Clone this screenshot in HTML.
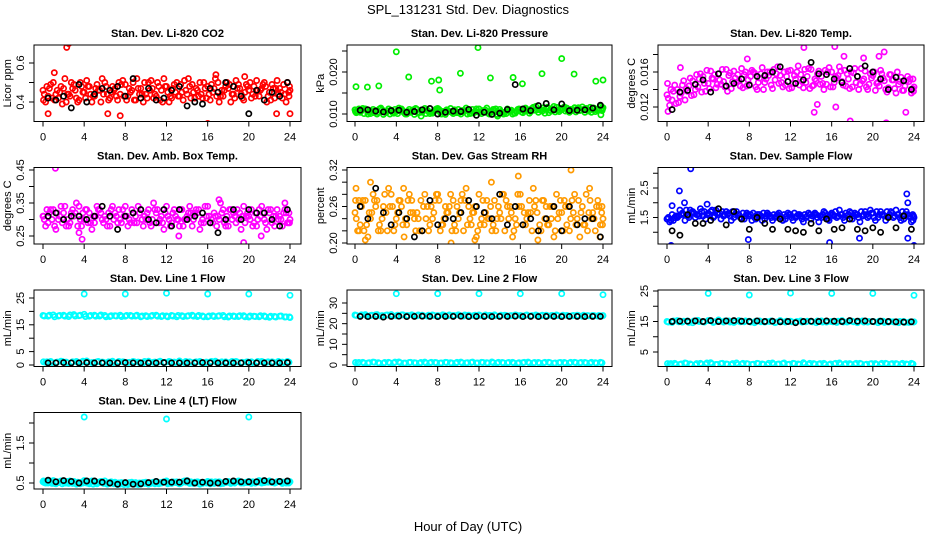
<!DOCTYPE html>
<html><head><meta charset="utf-8"><style>
html,body{margin:0;padding:0;background:#fff;}
svg{display:block;font-family:"Liberation Sans",sans-serif;}
</style></head><body>
<svg id="chart" width="936" height="540" viewBox="0 0 936 540" xmlns="http://www.w3.org/2000/svg">
<rect x="0" y="0" width="936" height="540" fill="#fff"/>
<text x="468" y="14" font-size="13" text-anchor="middle">SPL_131231  Std. Dev. Diagnostics</text>
<text x="468" y="531" font-size="13" text-anchor="middle">Hour of Day (UTC)</text>
</svg>
<script>
// shared hours
const hoursA = [0,0.5,1,1.5,2,2.5,3,3.5,4,4.5,5,5.5,6,6.5,7,7.5,8,8.5,9,9.5,10,10.5,11,11.5,12,12.5,13,13.5,14,14.5,15,15.5,16,16.5,17,17.5,18,18.5,19,19.5,20,20.5,21,21.5,22,22.5,23,23.5,24];
const hoursB = [0.25,0.75,1.25,1.75,2.25,2.75,3.25,3.75,4.25,4.75,5.25,5.75,6.25,6.75,7.25,7.75,8.25,8.75,9.25,9.75,10.25,10.75,11.25,11.75,12.25,12.75,13.25,13.75,14.25,14.75,15.25,15.75,16.25,16.75,17.25,17.75,18.25,18.75,19.25,19.75,20.25,20.75,21.25,21.75,22.25,22.75,23.25,23.75,23.9];
const hoursC = [0.125,0.625,1.125,1.625,2.125,2.625,3.125,3.625,4.125,4.625,5.125,5.625,6.125,6.625,7.125,7.625,8.125,8.625,9.125,9.625,10.125,10.625,11.125,11.625,12.125,12.625,13.125,13.625,14.125,14.625,15.125,15.625,16.125,16.625,17.125,17.625,18.125,18.625,19.125,19.625,20.125,20.625,21.125,21.625,22.125,22.625,23.125,23.625,23.95];
const hoursD = [0.375,0.875,1.375,1.875,2.375,2.875,3.375,3.875,4.375,4.875,5.375,5.875,6.375,6.875,7.375,7.875,8.375,8.875,9.375,9.875,10.375,10.875,11.375,11.875,12.375,12.875,13.375,13.875,14.375,14.875,15.375,15.875,16.375,16.875,17.375,17.875,18.375,18.875,19.375,19.875,20.375,20.875,21.375,21.875,22.375,22.875,23.375,23.875,0.05];
const blkHours = [0.5,1.25,2,2.75,3.5,4.25,5,5.75,6.5,7.25,8,8.75,9.5,10.25,11,11.75,12.5,13.25,14,14.75,15.5,16.25,17,17.75,18.5,19.25,20,20.75,21.5,22.25,23,23.75];
const xTicks = [0,4,8,12,16,20,24];

// CO2
const co2A = [0.46,0.43,0.50,0.42,0.47,0.44,0.49,0.41,0.45,0.48,0.43,0.46,0.50,0.42,0.47,0.44,0.49,0.45,0.41,0.47,0.44,0.51,0.43,0.46,0.48,0.42,0.50,0.45,0.44,0.49,0.46,0.42,0.48,0.45,0.50,0.43,0.47,0.44,0.49,0.41,0.46,0.48,0.43,0.50,0.45,0.42,0.47,0.44,0.46];
const co2B = [0.40,0.49,0.44,0.48,0.40,0.50,0.42,0.48,0.51,0.40,0.49,0.52,0.44,0.48,0.41,0.51,0.43,0.50,0.47,0.40,0.50,0.42,0.48,0.52,0.40,0.49,0.43,0.51,0.48,0.42,0.50,0.47,0.41,0.52,0.43,0.48,0.40,0.51,0.44,0.49,0.42,0.51,0.47,0.40,0.49,0.51,0.42,0.50,0.43];
const co2C = [0.44,0.47,0.41,0.45,0.52,0.43,0.46,0.50,0.42,0.44,0.47,0.40,0.48,0.45,0.43,0.49,0.41,0.46,0.52,0.44,0.42,0.47,0.50,0.40,0.45,0.47,0.43,0.41,0.52,0.45,0.43,0.50,0.44,0.47,0.40,0.46,0.49,0.42,0.47,0.45,0.50,0.43,0.46,0.48,0.41,0.47,0.45,0.40,0.48];
const co2D = [0.48,0.42,0.46,0.39,0.44,0.47,0.40,0.45,0.48,0.43,0.46,0.44,0.41,0.46,0.50,0.43,0.47,0.41,0.44,0.50,0.46,0.44,0.41,0.48,0.43,0.45,0.49,0.46,0.42,0.47,0.44,0.42,0.49,0.43,0.46,0.50,0.44,0.47,0.42,0.48,0.44,0.46,0.49,0.43,0.47,0.44,0.49,0.45,0.41];
const co2OutX = [2.3,2.5,1.1,8,16,16.8,19.6,0.5,6.3,22.7,24,7.5];
const co2OutY = [0.68,0.70,0.55,0.28,0.29,0.54,0.53,0.34,0.34,0.34,0.34,0.33];
const co2Blk = [0.42,0.41,0.43,0.37,0.49,0.40,0.44,0.47,0.46,0.48,0.43,0.52,0.42,0.47,0.41,0.42,0.46,0.48,0.38,0.40,0.39,0.47,0.45,0.50,0.48,0.43,0.34,0.46,0.41,0.45,0.43,0.50];
// Pressure
const presA = [.0110,.0104,.0112,.0101,.0108,.0114,.0103,.0109,.0106,.0112,.0100,.0107,.0111,.0104,.0109,.0102,.0113,.0106,.0108,.0101,.0111,.0105,.0109,.0103,.0112,.0106,.0100,.0108,.0111,.0104,.0107,.0102,.0110,.0114,.0106,.0118,.0109,.0113,.0107,.0116,.0110,.0114,.0108,.0112,.0117,.0109,.0113,.0111,.0115];
const presB = [.0106,.0113,.0100,.0111,.0104,.0099,.0112,.0102,.0114,.0103,.0111,.0099,.0104,.0113,.0101,.0110,.0104,.0099,.0113,.0106,.0100,.0114,.0102,.0112,.0101,.0114,.0107,.0099,.0104,.0112,.0100,.0111,.0103,.0108,.0116,.0104,.0115,.0103,.0118,.0106,.0117,.0104,.0115,.0108,.0104,.0116,.0106,.0118,.0108];
const presC = [.0103,.0108,.0111,.0106,.0100,.0110,.0107,.0104,.0101,.0108,.0106,.0110,.0102,.0109,.0106,.0105,.0111,.0103,.0106,.0110,.0104,.0108,.0101,.0107,.0105,.0109,.0103,.0112,.0106,.0101,.0109,.0106,.0105,.0111,.0113,.0110,.0107,.0116,.0112,.0109,.0113,.0107,.0110,.0115,.0111,.0107,.0114,.0110,.0112];
const presD = [.0112,.0101,.0106,.0103,.0112,.0105,.0100,.0111,.0108,.0100,.0104,.0113,.0109,.0101,.0104,.0112,.0100,.0110,.0104,.0103,.0108,.0100,.0111,.0105,.0108,.0102,.0111,.0104,.0100,.0108,.0103,.0112,.0108,.0102,.0109,.0112,.0102,.0109,.0105,.0113,.0107,.0111,.0105,.0109,.0113,.0104,.0110,.0114,.0106];
const presOutX = [0.1,1.2,2.3,4,5.2,7.4,8.1,8.2,10.2,11.9,13.1,15.3,16.2,18.1,20,21.2,23.3,24,23.8,13.8,6.4];
const presOutY = [.0165,.0164,.0167,.0248,.0188,.0178,.0181,.0157,.0197,.0258,.0186,.0187,.0172,.0196,.0232,.0195,.0178,.0181,.0098,.0095,.0095];
const presBlk = [.0109,.0110,.0107,.0105,.0108,.0109,.0104,.0106,.0110,.0113,.0100,.0104,.0107,.0106,.0111,.0097,.0104,.0099,.0102,.0111,.0170,.0112,.0108,.0120,.0125,.0110,.0124,.0108,.0109,.0110,.0114,.0121];
// Li-820 temp
const tempA = [.0134,.0128,.0140,.0145,.0138,.0150,.0143,.0155,.0147,.0152,.0158,.0149,.0156,.0161,.0150,.0157,.0146,.0159,.0153,.0148,.0160,.0151,.0156,.0145,.0162,.0152,.0157,.0148,.0163,.0150,.0155,.0146,.0160,.0153,.0149,.0158,.0143,.0155,.0150,.0140,.0156,.0148,.0153,.0142,.0151,.0146,.0139,.0149,.0143];
const tempB = [.0122,.0145,.0132,.0128,.0153,.0140,.0158,.0138,.0161,.0142,.0146,.0163,.0141,.0148,.0164,.0144,.0162,.0140,.0165,.0160,.0141,.0166,.0143,.0161,.0147,.0167,.0142,.0164,.0145,.0161,.0140,.0165,.0148,.0166,.0162,.0141,.0164,.0146,.0161,.0158,.0139,.0162,.0140,.0157,.0136,.0154,.0150,.0136,.0152];
const tempC = [.0130,.0138,.0125,.0150,.0144,.0134,.0152,.0147,.0141,.0157,.0151,.0143,.0159,.0153,.0144,.0160,.0155,.0143,.0158,.0152,.0145,.0158,.0148,.0155,.0142,.0160,.0149,.0155,.0144,.0158,.0147,.0160,.0143,.0156,.0145,.0152,.0159,.0140,.0152,.0146,.0160,.0144,.0150,.0157,.0141,.0149,.0144,.0152,.0138];
const tempD = [.0140,.0124,.0136,.0141,.0133,.0157,.0137,.0162,.0153,.0146,.0163,.0138,.0149,.0157,.0142,.0151,.0160,.0148,.0140,.0156,.0163,.0147,.0160,.0141,.0156,.0145,.0163,.0141,.0152,.0146,.0162,.0143,.0155,.0161,.0144,.0160,.0148,.0164,.0143,.0153,.0147,.0158,.0137,.0151,.0160,.0139,.0155,.0141,.0147];
const tempOutX = [0.1,1.3,13.3,16.3,17.2,14.3,16.4,17.8,21.3,21.1,23.2,14.6,19.1,20.6,7.8];
const tempOutY = [.0115,.0165,.0188,.0189,.0178,.0114,.0120,.0104,.0102,.0183,.0114,.0123,.0176,.0178,.0175];
const tempBlk = [.0117,.0137,.0139,.0146,.0151,.0137,.0158,.0144,.0147,.0152,.0145,.0155,.0156,.0160,.0166,.0149,.0147,.0151,.0171,.0158,.0157,.0152,.0148,.0164,.0155,.0167,.0160,.0152,.0140,.0154,.0150,.0140];
// Amb box temp
const ambA = [.31,.29,.33,.30,.32,.28,.31,.34,.30,.32,.29,.33,.31,.28,.32,.30,.34,.29,.31,.33,.30,.28,.32,.31,.34,.29,.30,.33,.31,.28,.32,.30,.34,.29,.31,.33,.28,.32,.30,.34,.31,.29,.33,.30,.32,.28,.31,.33,.30];
const ambB = [.28,.33,.27,.34,.28,.32,.35,.28,.33,.27,.34,.30,.28,.34,.29,.33,.28,.32,.34,.28,.33,.35,.29,.27,.30,.33,.28,.30,.34,.32,.27,.34,.29,.31,.35,.28,.33,.29,.27,.31,.33,.28,.34,.27,.29,.33,.28,.29,.32];
const ambC = [.30,.32,.28,.31,.34,.29,.32,.30,.33,.29,.31,.32,.30,.33,.31,.29,.31,.33,.29,.30,.32,.30,.33,.29,.31,.32,.30,.28,.32,.30,.33,.29,.31,.32,.30,.29,.33,.31,.32,.29,.30,.32,.31,.29,.33,.31,.30,.32,.29];
const ambD = [.33,.30,.32,.29,.30,.33,.28,.32,.29,.31,.33,.29,.32,.30,.33,.31,.30,.29,.32,.31,.29,.33,.30,.32,.28,.31,.33,.30,.32,.33,.29,.31,.30,.28,.32,.31,.30,.33,.31,.32,.28,.30,.32,.33,.31,.30,.32,.29,.31];
const ambOutX = [1.2,3.8,3.5,19.5,21.2,13.2,17.1,23.5];
const ambOutY = [0.455,0.24,0.26,0.23,0.25,0.25,0.36,0.35];
const ambBlk = [.31,.32,.30,.31,.31,.30,.31,.34,.31,.27,.31,.32,.33,.30,.29,.33,.28,.33,.30,.31,.32,.29,.26,.30,.33,.30,.33,.32,.32,.30,.28,.33];
// Gas RH
const rhA = [.25,.23,.27,.24,.26,.22,.25,.28,.24,.26,.23,.27,.25,.22,.26,.24,.28,.23,.25,.27,.24,.22,.26,.25,.28,.23,.24,.27,.25,.22,.26,.24,.28,.23,.25,.27,.22,.26,.24,.28,.25,.23,.27,.24,.26,.22,.25,.27,.24];
const rhB = [.22,.27,.21,.28,.22,.26,.29,.22,.27,.21,.28,.24,.22,.28,.23,.27,.22,.26,.28,.22,.27,.29,.23,.21,.24,.27,.22,.24,.28,.26,.21,.28,.23,.25,.29,.22,.27,.23,.21,.25,.27,.22,.28,.21,.23,.27,.22,.23,.26];
const rhC = [.24,.26,.23,.25,.27,.24,.22,.26,.25,.23,.27,.25,.24,.26,.22,.25,.27,.24,.26,.23,.25,.27,.24,.26,.23,.25,.26,.22,.24,.27,.25,.23,.26,.24,.22,.25,.27,.23,.26,.24,.22,.26,.25,.27,.23,.25,.24,.26,.23];
const rhD = [.27,.22,.25,.27,.23,.28,.26,.23,.27,.24,.25,.22,.27,.24,.26,.28,.23,.25,.22,.26,.28,.23,.25,.22,.27,.24,.23,.26,.28,.24,.22,.26,.25,.27,.26,.23,.24,.26,.22,.27,.26,.24,.23,.25,.28,.24,.26,.25,.27];
const rhOutX = [0.1,1.0,1.5,0.4,4.7,9.3,13.2,15.8,20.9,22.7,17.7,11.6,23.7];
const rhOutY = [.29,.205,.30,.22,.29,.20,.30,.31,.32,.29,.205,.205,.21];
const rhBlk = [.26,.24,.29,.25,.23,.25,.24,.21,.22,.27,.23,.24,.24,.25,.27,.26,.25,.24,.28,.23,.26,.23,.24,.22,.24,.26,.22,.26,.23,.24,.24,.21];
// Sample flow
const sfA = [1.45,1.6,1.5,1.65,1.55,1.7,1.6,1.55,1.65,1.5,1.6,1.55,1.65,1.5,1.6,1.45,1.55,1.5,1.6,1.45,1.55,1.5,1.55,1.45,1.6,1.5,1.55,1.5,1.45,1.6,1.5,1.55,1.65,1.5,1.6,1.55,1.45,1.6,1.55,1.5,1.65,1.5,1.6,1.55,1.5,1.6,1.45,1.55,1.5];
const sfB = [1.35,1.5,1.75,1.4,1.75,1.5,1.8,1.45,1.7,1.75,1.45,1.7,1.4,1.7,1.45,1.65,1.4,1.6,1.4,1.65,1.4,1.6,1.4,1.65,1.4,1.6,1.35,1.65,1.6,1.35,1.7,1.4,1.55,1.75,1.4,1.7,1.65,1.35,1.7,1.75,1.4,1.7,1.4,1.7,1.75,1.4,1.7,1.35,1.4];
const sfC = [1.5,1.4,1.55,1.6,1.5,1.65,1.55,1.7,1.6,1.55,1.65,1.6,1.55,1.6,1.5,1.55,1.6,1.45,1.55,1.55,1.5,1.55,1.5,1.55,1.5,1.55,1.45,1.55,1.55,1.5,1.6,1.45,1.6,1.55,1.5,1.6,1.55,1.5,1.6,1.55,1.5,1.6,1.55,1.6,1.55,1.5,1.6,1.5,1.55];
const sfD = [1.4,1.55,1.6,1.75,1.65,1.6,1.7,1.6,1.75,1.65,1.7,1.6,1.7,1.6,1.65,1.6,1.65,1.6,1.65,1.6,1.6,1.65,1.6,1.6,1.65,1.6,1.6,1.6,1.65,1.55,1.65,1.6,1.7,1.6,1.65,1.65,1.6,1.7,1.6,1.65,1.7,1.6,1.7,1.65,1.6,1.7,1.6,1.6,1.45];
const sfOutX = [2.3,1.2,0.4,0.5,7.9,15.8,23.3,23.4,23.4,24,18.7,1.7,3.9];
const sfOutY = [3.15,2.4,0.55,1.9,0.75,0.65,2.3,2.0,0.8,0.55,0.8,2.0,1.95];
const sfBlk = [1.05,0.9,1.6,1.3,1.3,1.4,1.8,1.25,1.7,1.45,1.1,1.5,1.3,1.1,1.45,1.1,1.05,1.0,1.3,1.05,1.45,1.1,1.15,1.45,1.1,1.05,1.15,1.0,1.5,1.15,1.55,1.1];
// Line 1
const l1A = [18.5,18.2,18.7,18.3,18.6,18.1,18.8,18.4,18.9,18.2,18.6,18.3,18.5,18.1,18.4,18.6,18.2,18.5,18.3,18.0,18.4,18.2,18.6,18.1,18.3,18.5,18.0,18.4,18.2,18.6,18.1,18.3,18.0,18.4,18.2,18.5,17.9,18.3,18.1,18.4,17.9,18.2,18.0,18.3,17.8,18.1,18.2,17.9,17.7];
const l1B = [1.0,1.3,0.9,1.4,1.1,0.8,1.3,1.0,1.5,0.9,1.2,1.1,0.8,1.4,1.0,1.2,0.9,1.3,1.1,0.8,1.4,1.0,1.2,0.9,1.3,1.1,1.5,0.9,1.2,1.0,1.3,0.8,1.1,1.4,0.9,1.2,1.0,1.3,0.8,1.1,1.2,0.9,1.3,1.0,1.2,0.9,1.1,1.3,1.0];
const l1C = [18.3,18.6,18.0,18.5,18.2,18.7,18.3,18.6,18.1,18.5,18.2,18.7,18.0,18.4,18.3,18.1,18.5,18.2,18.6,18.3,18.1,18.5,18.2,18.4,18.0,18.3,18.5,18.1,18.4,18.2,18.5,18.0,18.3,18.1,18.4,18.0,18.3,18.1,18.4,18.0,18.3,18.1,18.4,18.0,18.2,17.9,18.3,18.0,17.9];
const l1D = [1.2,0.9,1.1,1.3,0.8,1.2,1.0,1.4,1.1,0.9,1.3,1.0,1.2,0.9,1.3,1.1,1.0,1.2,0.9,1.3,1.0,1.1,1.4,1.0,1.2,0.9,1.1,1.3,1.0,1.2,0.9,1.1,1.3,1.0,1.2,0.9,1.3,1.1,1.0,1.2,0.9,1.3,1.1,1.2,1.0,1.3,0.9,1.1,1.2];
const l1OutX = [4,8,12,16,20,24];
const l1OutY = [26.5,26.5,26.8,26.5,26.5,26.0];
const l1Blk = [0.8,0.8,0.9,0.8,0.8,0.9,0.8,0.8,0.8,0.8,0.9,0.8,0.8,0.8,0.8,0.9,0.8,0.8,0.8,0.8,0.9,0.8,0.8,0.8,0.8,0.8,0.9,0.8,0.8,0.8,0.8,0.9];
// Line 2
const l2A = [24.2,23.8,24.4,23.9,24.3,23.7,24.1,24.4,23.8,24.2,23.9,24.3,23.8,24.1,23.7,24.2,23.9,24.3,23.8,24.0,24.3,23.7,24.1,23.9,24.2,23.8,24.0,24.3,23.7,24.1,23.8,24.2,23.9,24.0,23.7,24.2,23.8,24.1,23.9,24.2,23.7,24.0,23.8,24.1,23.6,23.9,24.0,23.7,23.9];
const l2B = [1.0,1.3,0.9,1.4,1.1,0.8,1.3,1.0,1.5,0.9,1.2,1.1,0.8,1.4,1.0,1.2,0.9,1.3,1.1,0.8,1.4,1.0,1.2,0.9,1.3,1.1,1.5,0.9,1.2,1.0,1.3,0.8,1.1,1.4,0.9,1.2,1.0,1.3,0.8,1.1,1.2,0.9,1.3,1.0,1.2,0.9,1.1,1.3,1.0];
const l2C = [24.0,24.3,23.8,24.1,24.4,23.9,24.2,23.8,24.1,24.3,23.9,24.0,24.2,23.8,24.1,24.0,23.8,24.1,24.2,23.9,24.0,24.2,23.8,24.1,23.9,24.2,24.0,23.8,24.1,24.0,23.9,24.1,23.8,24.2,23.9,24.0,24.1,23.8,24.0,23.9,24.1,23.8,24.0,23.9,24.1,23.8,23.9,24.0,23.8];
const l2D = [1.2,0.9,1.1,1.3,0.8,1.2,1.0,1.4,1.1,0.9,1.3,1.0,1.2,0.9,1.3,1.1,1.0,1.2,0.9,1.3,1.0,1.1,1.4,1.0,1.2,0.9,1.1,1.3,1.0,1.2,0.9,1.1,1.3,1.0,1.2,0.9,1.3,1.1,1.0,1.2,0.9,1.3,1.1,1.2,1.0,1.3,0.9,1.1,1.2];
const l2OutX = [4,8,12,16,20,24];
const l2OutY = [34.5,34.5,34.5,34.5,34.5,34.0];
const l2Blk = [23.5,23.4,23.5,23.2,23.5,23.6,23.4,23.5,23.6,23.5,23.4,23.5,23.5,23.6,23.4,23.5,23.5,23.4,23.5,23.5,23.6,23.4,23.5,23.4,23.5,23.5,23.4,23.5,23.5,23.4,23.5,23.5];
// Line 3
const l3A = [15.0,14.7,15.3,14.8,15.2,14.6,15.4,14.9,15.3,14.7,15.5,14.8,15.2,14.7,15.3,14.9,15.1,14.6,15.2,14.8,15.0,14.6,15.3,14.8,15.1,14.7,15.2,14.9,15.0,14.6,15.2,14.8,15.0,14.7,15.3,14.8,15.1,14.6,15.2,14.8,15.0,14.6,15.1,14.8,14.9,14.6,15.0,14.7,14.9];
const l3B = [1.0,1.3,0.9,1.4,1.1,0.8,1.3,1.0,1.5,0.9,1.2,1.1,0.8,1.4,1.0,1.2,0.9,1.3,1.1,0.8,1.4,1.0,1.2,0.9,1.3,1.1,1.5,0.9,1.2,1.0,1.3,0.8,1.1,1.4,0.9,1.2,1.0,1.3,0.8,1.1,1.2,0.9,1.3,1.0,1.2,0.9,1.1,1.3,1.0];
const l3C = [14.8,15.2,14.9,15.1,14.7,15.2,15.0,14.8,15.3,14.9,15.1,15.2,14.8,15.0,14.9,15.2,14.8,15.1,14.9,15.0,15.2,14.8,15.0,15.1,14.9,15.0,14.8,15.1,14.9,15.2,14.8,15.0,14.9,15.1,14.8,15.0,14.9,15.1,14.8,15.0,14.9,15.1,14.7,15.0,14.8,15.0,14.7,14.9,14.8];
const l3D = [1.2,0.9,1.1,1.3,0.8,1.2,1.0,1.4,1.1,0.9,1.3,1.0,1.2,0.9,1.3,1.1,1.0,1.2,0.9,1.3,1.0,1.1,1.4,1.0,1.2,0.9,1.1,1.3,1.0,1.2,0.9,1.1,1.3,1.0,1.2,0.9,1.3,1.1,1.0,1.2,0.9,1.3,1.1,1.2,1.0,1.3,0.9,1.1,1.2];
const l3OutX = [4,8,12,16,20,24];
const l3OutY = [24.2,23.7,24.3,24.2,24.2,23.6];
const l3Blk = [15.0,15.1,15.1,15.2,15.0,15.3,15.0,15.2,15.3,15.1,15.0,15.2,15.0,15.1,14.9,15.0,14.6,15.0,15.1,15.0,15.2,15.1,15.0,15.3,15.1,15.2,15.0,15.1,15.0,14.9,14.8,14.9];
// Line 4
const l4A = [0.53,0.50,0.56,0.51,0.55,0.49,0.54,0.50,0.56,0.48,0.53,0.51,0.55,0.49,0.52,0.47,0.50,0.48,0.51,0.47,0.52,0.49,0.54,0.50,0.55,0.49,0.53,0.51,0.56,0.50,0.53,0.49,0.54,0.50,0.52,0.49,0.54,0.51,0.55,0.50,0.54,0.52,0.56,0.51,0.55,0.50,0.54,0.52,0.53];
const l4B = [0.50,0.54,0.48,0.55,0.50,0.53,0.47,0.52,0.50,0.55,0.48,0.53,0.47,0.51,0.46,0.50,0.46,0.49,0.46,0.51,0.47,0.52,0.48,0.53,0.50,0.52,0.48,0.55,0.49,0.52,0.47,0.51,0.48,0.53,0.48,0.51,0.49,0.53,0.50,0.52,0.49,0.53,0.50,0.54,0.51,0.53,0.49,0.52,0.51];
const l4C = [0.51,0.55,0.49,0.53,0.50,0.55,0.51,0.48,0.53,0.51,0.50,0.54,0.49,0.53,0.49,0.51,0.49,0.52,0.48,0.50,0.49,0.51,0.50,0.52,0.48,0.53,0.50,0.54,0.51,0.49,0.52,0.51,0.52,0.49,0.53,0.51,0.52,0.50,0.53,0.51,0.52,0.50,0.54,0.52,0.53,0.51,0.53,0.50,0.54];
const l4D = [0.55,0.49,0.53,0.48,0.54,0.49,0.52,0.50,0.54,0.47,0.52,0.49,0.51,0.48,0.50,0.46,0.51,0.47,0.50,0.49,0.50,0.48,0.51,0.53,0.50,0.51,0.49,0.52,0.53,0.50,0.51,0.50,0.53,0.51,0.50,0.52,0.51,0.54,0.52,0.51,0.53,0.52,0.55,0.52,0.51,0.54,0.52,0.50,0.55];
const l4OutX = [4,12,20];
const l4OutY = [2.15,2.1,2.15];
const l4Blk = [0.57,0.53,0.56,0.54,0.50,0.55,0.55,0.52,0.50,0.47,0.51,0.47,0.48,0.51,0.54,0.52,0.52,0.52,0.55,0.50,0.52,0.50,0.50,0.54,0.55,0.53,0.53,0.53,0.56,0.53,0.54,0.55];

const panels = [
 {name:'co2',title:'Stan. Dev. Li-820 CO2',yt:'Licor ppm',c:0,r:0,col:'#ff0000',a:co2A,b:co2B,cc:co2C,d:co2D,ox:co2OutX,oy:co2OutY,k:co2Blk,v0:0.4,p0:102,v1:0.6,p1:63,ticks:[0.4,0.5,0.6],labs:['0.4','','0.6']},
 {name:'pressure',title:'Stan. Dev. Li-820 Pressure',yt:'kPa',c:1,r:0,col:'#00ee00',a:presA,b:presB,cc:presC,d:presD,ox:presOutX,oy:presOutY,k:presBlk,v0:0.010,p0:114,v1:0.020,p1:72,ticks:[0.010,0.015,0.020,0.025],labs:['0.010','','0.020','']},
 {name:'li820-temp',title:'Stan. Dev. Li-820 Temp.',yt:'degrees C',c:2,r:0,col:'#ff00ff',a:tempA,b:tempB,cc:tempC,d:tempD,ox:tempOutX,oy:tempOutY,k:tempBlk,v0:0.012,p0:107,v1:0.016,p1:72,ticks:[0.012,0.014,0.016,0.018],labs:['0.012','','0.016','']},
 {name:'amb-box-temp',title:'Stan. Dev. Amb. Box Temp.',yt:'degrees C',c:0,r:1,col:'#ff00ff',a:ambA,b:ambB,cc:ambC,d:ambD,ox:ambOutX,oy:ambOutY,k:ambBlk,v0:0.25,p0:236,v1:0.45,p1:170,ticks:[0.25,0.30,0.35,0.40,0.45],labs:['0.25','','0.35','','0.45']},
 {name:'gas-stream-rh',title:'Stan. Dev. Gas Stream RH',yt:'percent',c:1,r:1,col:'#ff9a00',a:rhA,b:rhB,cc:rhC,d:rhD,ox:rhOutX,oy:rhOutY,k:rhBlk,v0:0.20,p0:243,v1:0.32,p1:170,ticks:[0.20,0.22,0.24,0.26,0.28,0.30,0.32],labs:['0.20','','','0.26','','','0.32']},
 {name:'sample-flow',title:'Stan. Dev. Sample Flow',yt:'mL/min',c:2,r:1,col:'#0000ff',a:sfA,b:sfB,cc:sfC,d:sfD,ox:sfOutX,oy:sfOutY,k:sfBlk,v0:0.5,p0:247,v1:2.5,p1:188,ticks:[0.5,1,1.5,2,2.5,3],labs:['0.5','','1.5','','2.5','']},
 {name:'line1-flow',title:'Stan. Dev. Line 1 Flow',yt:'mL/min',c:0,r:2,col:'#00ffff',a:l1A,b:l1B,cc:l1C,d:l1D,ox:l1OutX,oy:l1OutY,k:l1Blk,v0:0,p0:365,v1:25,p1:298,ticks:[0,5,10,15,20,25],labs:['0','5','','15','','25']},
 {name:'line2-flow',title:'Stan. Dev. Line 2 Flow',yt:'mL/min',c:1,r:2,col:'#00ffff',a:l2A,b:l2B,cc:l2C,d:l2D,ox:l2OutX,oy:l2OutY,k:l2Blk,v0:0,p0:365,v1:30,p1:303,ticks:[0,5,10,15,20,25,30],labs:['0','','10','','20','','30']},
 {name:'line3-flow',title:'Stan. Dev. Line 3 Flow',yt:'mL/min',c:2,r:2,col:'#00ffff',a:l3A,b:l3B,cc:l3C,d:l3D,ox:l3OutX,oy:l3OutY,k:l3Blk,v0:5,p0:352,v1:25,p1:291,ticks:[5,10,15,20,25],labs:['5','','15','','25']},
 {name:'line4-flow',title:'Stan. Dev. Line 4 (LT) Flow',yt:'mL/min',c:0,r:3,col:'#00ffff',a:l4A,b:l4B,cc:l4C,d:l4D,ox:l4OutX,oy:l4OutY,k:l4Blk,v0:0.5,p0:483,v1:1.5,p1:443,ticks:[0.5,1,1.5,2],labs:['0.5','','1.5','']}
];
const cols = [{l:34,r:301,x0:43,x24:290},{l:347,r:612,x0:355,x24:603},{l:658,r:924,x0:667,x24:914}];
const rowTops = [45,167.5,290,412.5];
const boxH = 76.5;

const NS='http://www.w3.org/2000/svg';
const svg=document.getElementById('chart');
function mk(tag,attrs,parent){const e=document.createElementNS(NS,tag);for(const k in attrs)e.setAttribute(k,attrs[k]);(parent||svg).appendChild(e);return e;}

panels.forEach(p=>{
  const C=cols[p.c], top=rowTops[p.r], bot=top+boxH;
  const g=mk('g',{});
  
  
  const xs=h=>C.x0+(C.x24-C.x0)*h/24;
  const ys=v=>p.p0+(p.p1-p.p0)*(v-p.v0)/(p.v1-p.v0);
  const cid='clip-'+p.name;
  const cp=mk('clipPath',{id:cid},g);
  mk('rect',{x:C.l,y:top,width:C.r-C.l,height:boxH},cp);
  const pts=mk('g',{'clip-path':'url(#'+cid+')'},g);
  function dot(x,y,color,nm){
    const c=mk('circle',{cx:xs(x).toFixed(1),cy:ys(y).toFixed(1),r:2.6,fill:'none',stroke:color,'stroke-width':1.7},pts);
    
    
  }
  p.a.forEach((v,i)=>dot(hoursA[i],v,p.col,'point'));
  p.b.forEach((v,i)=>dot(hoursB[i],v,p.col,'point'));
  p.cc.forEach((v,i)=>dot(hoursC[i],v,p.col,'point'));
  p.d.forEach((v,i)=>dot(hoursD[i],v,p.col,'point'));
  p.ox.forEach((x,i)=>dot(x,p.oy[i],p.col,'outlier-point'));
  p.k.forEach((v,i)=>dot(blkHours[i],v,'#000','black-point'));
  const bx=mk('rect',{x:C.l,y:top,width:C.r-C.l,height:boxH,fill:'none',stroke:'#000','stroke-width':1},g);
  
  
  const t=mk('text',{x:(C.l+C.r)/2,y:top-8,'font-size':11,'font-weight':'bold','text-anchor':'middle'},g);
  t.textContent=p.title;
  
  
  mk('line',{x1:xs(0),x2:xs(24),y1:bot,y2:bot,stroke:'#000'},g);
  xTicks.forEach(h=>{
    mk('line',{x1:xs(h),x2:xs(h),y1:bot,y2:bot+5,stroke:'#000'},g);
    const tl=mk('text',{x:xs(h),y:bot+19,'font-size':11,'text-anchor':'middle'},g);
    tl.textContent=h;
    
    
  });
  const inT=p.ticks.filter(v=>{const y=ys(v);return y>=top-0.5&&y<=bot+0.5;});
  mk('line',{x1:C.l,x2:C.l,y1:ys(inT[0]),y2:ys(inT[inT.length-1]),stroke:'#000'},g);
  p.ticks.forEach((v,i)=>{
    const y=ys(v); if(y<top-0.5||y>bot+0.5)return;
    mk('line',{x1:C.l-5,x2:C.l,y1:y,y2:y,stroke:'#000'},g);
    if(p.labs[i]){
      const yl=mk('text',{x:0,y:0,'font-size':11,'text-anchor':'middle',transform:'translate('+(C.l-10)+','+y+') rotate(-90)'},g);
      yl.textContent=p.labs[i];
      
      
    }
  });
  const yt=mk('text',{x:0,y:0,'font-size':11,'text-anchor':'middle',transform:'translate('+(C.l-23)+','+(top+boxH/2)+') rotate(-90)'},g);
  yt.textContent=p.yt;
  
  
});
</script>
</body></html>
